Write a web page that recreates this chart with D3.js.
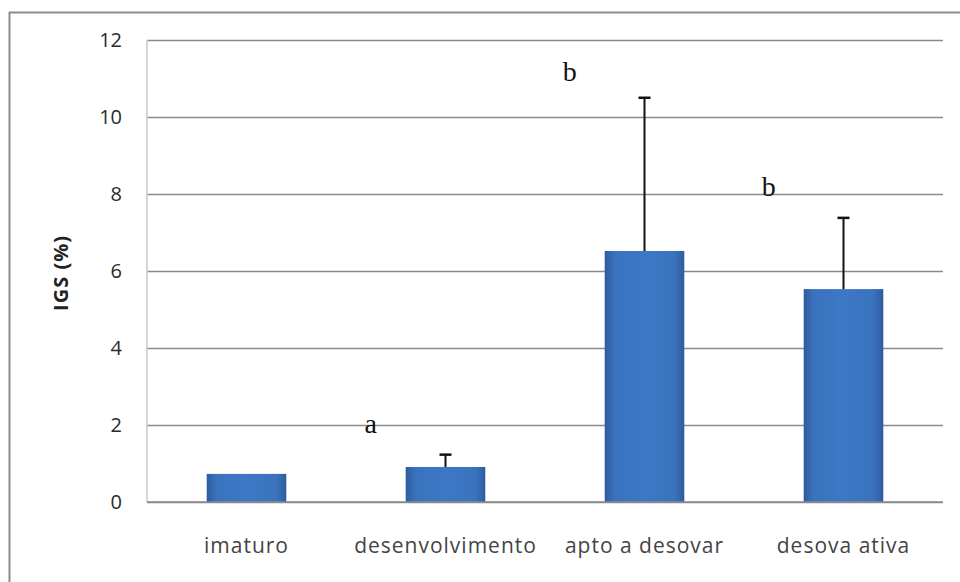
<!DOCTYPE html>
<html>
<head>
<meta charset="utf-8">
<script src="https://cdn.jsdelivr.net/npm/d3@7"></script>
<style>
  body { margin: 0; background: #fff; }
  svg { display: block; }
</style>
</head>
<body>
<div id="the_chart"></div>
<script>
// data
var categories = ["imaturo", "desenvolvimento", "apto a desovar", "desova ativa"];
var means = [0.73, 0.91, 6.52, 5.53];
var errUp = [0, 0.32, 3.98, 1.85]; // upper error (only drawn upward)
var yTicks = [0, 2, 4, 6, 8, 10, 12];
// significance letters: category they sit by, height in data units
var letters = ["a", "b", "b"];
var letterCats = ["desenvolvimento", "apto a desovar", "desova ativa"];
var letterY = [1.8, 10.93, 7.96];

var w = 960;
var h = 582;
var plotL = 147, plotR = 943, plotT = 40, plotB = 502; // plot area

var svg = d3.select("#the_chart")
    .append("svg")
    .attr("width", w)
    .attr("height", h);

// outer frame (only top and left edges show)
svg.append("line").attr("x1", 9).attr("x2", w).attr("y1", 12.5).attr("y2", 12.5)
    .attr("stroke", "#8c8c8c").attr("stroke-width", 2);
svg.append("line").attr("x1", 9.5).attr("x2", 9.5).attr("y1", 12).attr("y2", h)
    .attr("stroke", "#8c8c8c").attr("stroke-width", 2);

var yscale = d3.scaleLinear()
    .domain([0, 12])
    .range([plotB, plotT]);

var xscale = d3.scaleBand()
    .domain(categories)
    .range([plotL, plotR])
    .paddingInner(0.6)
    .paddingOuter(0.3);

// gradient for bars
var grad = svg.append("defs").append("linearGradient")
    .attr("id", "barGrad").attr("x1", "0").attr("x2", "1").attr("y1", "0").attr("y2", "0");
grad.append("stop").attr("offset", "0%").attr("stop-color", "#2d5c9f");
grad.append("stop").attr("offset", "12%").attr("stop-color", "#3a72bd");
grad.append("stop").attr("offset", "50%").attr("stop-color", "#3d78c6");
grad.append("stop").attr("offset", "88%").attr("stop-color", "#3a72bd");
grad.append("stop").attr("offset", "100%").attr("stop-color", "#2d5c9f");

// gridlines
svg.append("g")
    .attr("transform", "translate(" + plotL + ",0)")
    .call(d3.axisLeft(yscale).tickValues(yTicks).tickSize(-(plotR - plotL)).tickFormat(""))
    .call(function (g) {
        g.select(".domain").remove();
        g.selectAll(".tick line").attr("stroke", "#8a8a8a").attr("stroke-width", 1.5);
    });

// plot left edge
svg.append("line").attr("x1", plotL).attr("x2", plotL).attr("y1", plotT).attr("y2", plotB)
    .attr("stroke", "#c8c8c8").attr("stroke-width", 1.5);

// y tick labels
svg.append("g")
    .attr("transform", "translate(" + plotL + ",0)")
    .call(d3.axisLeft(yscale).tickValues(yTicks).tickSize(0).tickPadding(25))
    .call(function (g) {
        g.select(".domain").remove();
        g.selectAll("text")
            .attr("font-family", "'Open Sans', sans-serif")
            .attr("font-size", 20)
            .attr("fill", "#2a2a2a");
    });

// bars
svg.selectAll("rect.bar")
    .data(means)
    .enter().append("rect")
    .attr("class", "bar")
    .attr("x", function (d, i) { return xscale(categories[i]); })
    .attr("width", xscale.bandwidth())
    .attr("y", function (d) { return yscale(d); })
    .attr("height", function (d) { return plotB - yscale(d); })
    .attr("fill", "url(#barGrad)");

// x axis line
svg.append("line").attr("x1", plotL).attr("x2", plotR).attr("y1", plotB).attr("y2", plotB)
    .attr("stroke", "#8a8a8a").attr("stroke-width", 1.5);

// error bars (upper only), one per category that has an error
var errIdx = d3.range(means.length).filter(function (i) { return errUp[i] > 0; });
var cx = function (i) { return xscale(categories[i]) + xscale.bandwidth() / 2; };
var eb = svg.selectAll("g.err")
    .data(errIdx)
    .enter().append("g")
    .attr("class", "err");
eb.append("line")
    .attr("x1", function (i) { return cx(i); })
    .attr("x2", function (i) { return cx(i); })
    .attr("y1", function (i) { return yscale(means[i]); })
    .attr("y2", function (i) { return yscale(means[i] + errUp[i]); })
    .attr("stroke", "#111").attr("stroke-width", 2);
eb.append("line")
    .attr("x1", function (i) { return cx(i) - 6; })
    .attr("x2", function (i) { return cx(i) + 6; })
    .attr("y1", function (i) { return yscale(means[i] + errUp[i]); })
    .attr("y2", function (i) { return yscale(means[i] + errUp[i]); })
    .attr("stroke", "#111").attr("stroke-width", 2.5);

// category labels
svg.append("g")
    .attr("transform", "translate(0," + plotB + ")")
    .call(d3.axisBottom(xscale).tickSize(0).tickPadding(36))
    .call(function (g) {
        g.select(".domain").remove();
        g.selectAll("text")
            .attr("font-family", "'Open Sans', sans-serif")
            .attr("font-size", 21)
            .attr("letter-spacing", 1)
            .attr("fill", "#444");
    });

// y axis title
svg.append("text")
    .attr("transform", "translate(68," + ((plotT + plotB) / 2 + 2) + ") rotate(-90)")
    .attr("text-anchor", "middle")
    .attr("font-family", "'Open Sans', sans-serif")
    .attr("font-weight", "bold")
    .attr("font-size", 20)
    .attr("letter-spacing", 1)
    .attr("fill", "#222")
    .text("IGS (%)");

// significance letters
svg.selectAll("text.letter")
    .data(letters)
    .enter().append("text")
    .attr("class", "letter")
    .attr("x", function (d, i) { return xscale(letterCats[i]) - 35; })
    .attr("y", function (d, i) { return yscale(letterY[i]); })
    .attr("text-anchor", "middle")
    .attr("font-family", "'Liberation Serif', 'Times New Roman', serif")
    .attr("font-size", 28)
    .attr("fill", "#111")
    .text(function (d) { return d; });
</script>
</body>
</html>
